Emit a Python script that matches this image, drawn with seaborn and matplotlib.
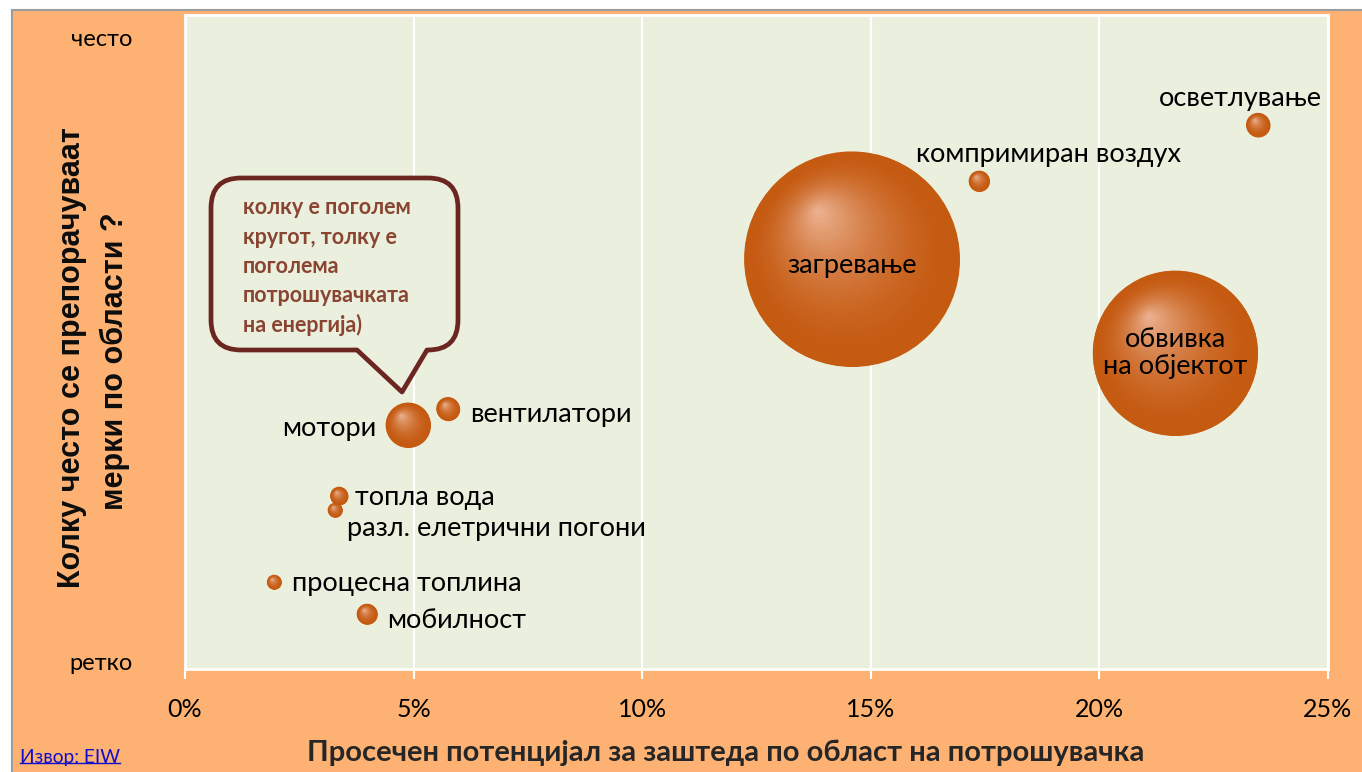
import numpy as np
import pandas as pd
import matplotlib
matplotlib.use("Agg")
import matplotlib.pyplot as plt
import seaborn as sns
from matplotlib.path import Path
from matplotlib.patches import PathPatch, Rectangle
from matplotlib.colors import to_rgb
from matplotlib.lines import Line2D
from matplotlib.transforms import Affine2D

# ---------------- data ----------------
areas = ["загревање", "обвивка\nна објектот", "компримиран воздух", "осветлување",
         "мотори", "вентилатори", "мобилност", "процесна топлина",
         "разл. елетрични погони", "топла вода"]
savings = [14.58, 21.66, 17.37, 23.47, 4.88, 5.75, 3.98, 1.95, 3.28, 3.37]          # % savings potential
frequency = [62.7, 48.3, 74.6, 83.2, 37.3, 39.8, 8.4, 13.3, 24.3, 26.5]              # how often recommended
consumption = [100, 58.9, 0.95, 1.25, 4.38, 1.18, 0.92, 0.46, 0.46, 0.70]           # relative energy use
x_ticks = [0, 5, 10, 15, 20, 25]
x_ticklabels = ["0%", "5%", "10%", "15%", "20%", "25%"]
y_ticks = [96.5, 1.1]
y_ticklabels = ["често", "ретко"]

df = pd.DataFrame({"area": areas, "savings": savings,
                   "frequency": frequency, "consumption": consumption})

# ---------------- style ----------------
W, H = 1362, 772
ORANGE = "#FDB273"
PLOT_BG = "#EBEFDE"
BASE = np.array(to_rgb("#C55A11"))
HL = np.array(to_rgb("#EDB596"))
VMAX = 100.0
SMAX = (2 * 107.5 * 0.72) ** 2   # marker area (pt^2) of the largest bubble

plt.rcParams["font.family"] = ["Lato", "DejaVu Sans"]

fig = plt.figure(figsize=(W / 100, H / 100), dpi=100, facecolor="white")
px = Affine2D().scale(1, -1).translate(0, H)  # pixel coords, y from top

# orange chart area with grey frame on top/left
fig.patches.append(Rectangle((12 / W, -0.1), 1.2, (H - 10) / H + 0.1,
                             transform=fig.transFigure, facecolor=ORANGE,
                             edgecolor="#9C9C9C", linewidth=1.5, zorder=-5))

ax = fig.add_axes([185 / W, 1 - 669 / H, (1328 - 185) / W, (669 - 15) / H])
ax.set_zorder(1)
ax.set_facecolor(PLOT_BG)
ax.set_axisbelow(True)

sns.scatterplot(data=df, x="savings", y="frequency", size="consumption",
                sizes=(0, SMAX), size_norm=(0, VMAX), color=BASE,
                linewidth=0, legend=False, ax=ax, zorder=3)

# radial highlight (top-left) drawn as nested offset circles
HOFF = np.array([-0.33, 0.46])
N = 34
GAMMA = 1.9
circ = Path.unit_circle()


def shifted_circle(f):
    v = circ.vertices * f + HOFF * (1 - f)
    verts = np.vstack([[[-1, -1], [1, 1]], v])
    codes = [Path.MOVETO, Path.MOVETO] + list(circ.codes)
    return Path(verts, codes)


for i, row in df.iterrows():
    s = row.consumption / VMAX * SMAX
    for k in range(0, N + 1):
        f = 1 - k / (N + 1)
        w = (1 - f) ** GAMMA
        col = BASE + (HL - BASE) * w
        ax.scatter([row.savings], [row.frequency], s=s, marker=shifted_circle(f),
                   color=[col], linewidths=0, zorder=3 + i * 0.01)

ax.set_xlim(0, 25)
ax.set_ylim(0, 100)
ax.set_xticks(x_ticks)
ax.set_xticklabels(x_ticklabels)
ax.set_yticks(y_ticks)
ax.set_yticklabels(y_ticklabels)
ax.set_xlabel("")
ax.set_ylabel("")
ax.grid(axis="x", color="white", linewidth=1.6)
ax.grid(axis="y", visible=False)
for sp in ax.spines.values():
    sp.set_color("white")
    sp.set_linewidth(2)
ax.tick_params(axis="x", colors="white", length=7, width=1.5, pad=14,
               labelcolor="black", labelsize=18)
ax.tick_params(axis="y", length=0, pad=38, labelcolor="black", labelsize=17)

# bubble labels: (dx, dy) in pixels, alignment
label_style = {
    "загревање": (0, -7, "center"),
    "обвивка\nна објектот": (0, 0, "center"),
    "компримиран воздух": (69, 27, "center"),
    "осветлување": (-18, 26, "center"),
    "мотори": (-32, -3, "right"),
    "вентилатори": (22, -6, "left"),
    "мобилност": (20, -6, "left"),
    "процесна топлина": (18, -1, "left"),
    "разл. елетрични погони": (12, -18, "left"),
    "топла вода": (16, -2, "left"),
}
for _, row in df.iterrows():
    dx, dy, ha = label_style[row.area]
    ax.annotate(row.area, xy=(row.savings, row.frequency), xytext=(dx, dy),
                textcoords="offset pixels", ha=ha, va="center", fontsize=19.5,
                color="black", zorder=6, linespacing=1.1)

# speech-bubble callout
L, R, T, B, r = 211, 458, 178, 350, 30
verts = [(L + r, T), (R - r, T), (R, T), (R, T + r), (R, B - r), (R, B), (R - r, B),
         (427, B), (402, 392), (357, B), (L + r, B), (L, B), (L, B - r),
         (L, T + r), (L, T), (L + r, T), (L + r, T)]
codes = [Path.MOVETO, Path.LINETO, Path.CURVE3, Path.CURVE3, Path.LINETO, Path.CURVE3,
         Path.CURVE3, Path.LINETO, Path.LINETO, Path.LINETO, Path.LINETO, Path.CURVE3,
         Path.CURVE3, Path.LINETO, Path.CURVE3, Path.CURVE3, Path.CLOSEPOLY]
fig.patches.append(PathPatch(Path(verts, codes), transform=px, facecolor=PLOT_BG,
                             edgecolor="#6B2622", linewidth=3.4, joinstyle="round",
                             zorder=5))
callout_lines = ["колку е поголем", "кругот, толку е", "поголема",
                 "потрошувачката", "на енергија)"]
for j, t in enumerate(callout_lines):
    fig.text(243, 208 + j * 29.3, t, transform=px, ha="left", va="center",
             fontsize=15.5, fontweight="bold", color="#8A4532", zorder=6)

# axis titles
fig.text(726, 753, "Просечен потенцијал за заштеда по област на потрошувачка",
         transform=px, ha="center", va="center", fontsize=21, fontweight="bold",
         color="#262626")
fig.text(72, 358, "Колку често се препорачуваат", transform=px, rotation=90,
         ha="center", va="center", fontsize=22, fontweight="bold",
         family="Liberation Sans", color="#0D0D0D")
fig.text(115, 361, "мерки по области ?", transform=px, rotation=90,
         ha="center", va="center", fontsize=22, fontweight="bold",
         family="Liberation Sans", color="#0D0D0D")

# source link
src = fig.text(20, 757, "Извор: EIW", transform=px, ha="left", va="center",
               fontsize=13.8, color="#1010CC")
fig.canvas.draw()
bb = src.get_window_extent()
fig.add_artist(Line2D([bb.x0, bb.x1], [bb.y0 + 3, bb.y0 + 3], color="#1010CC",
                      linewidth=1.0, transform=None))

fig.savefig("out.png", dpi=100, facecolor=fig.get_facecolor())
